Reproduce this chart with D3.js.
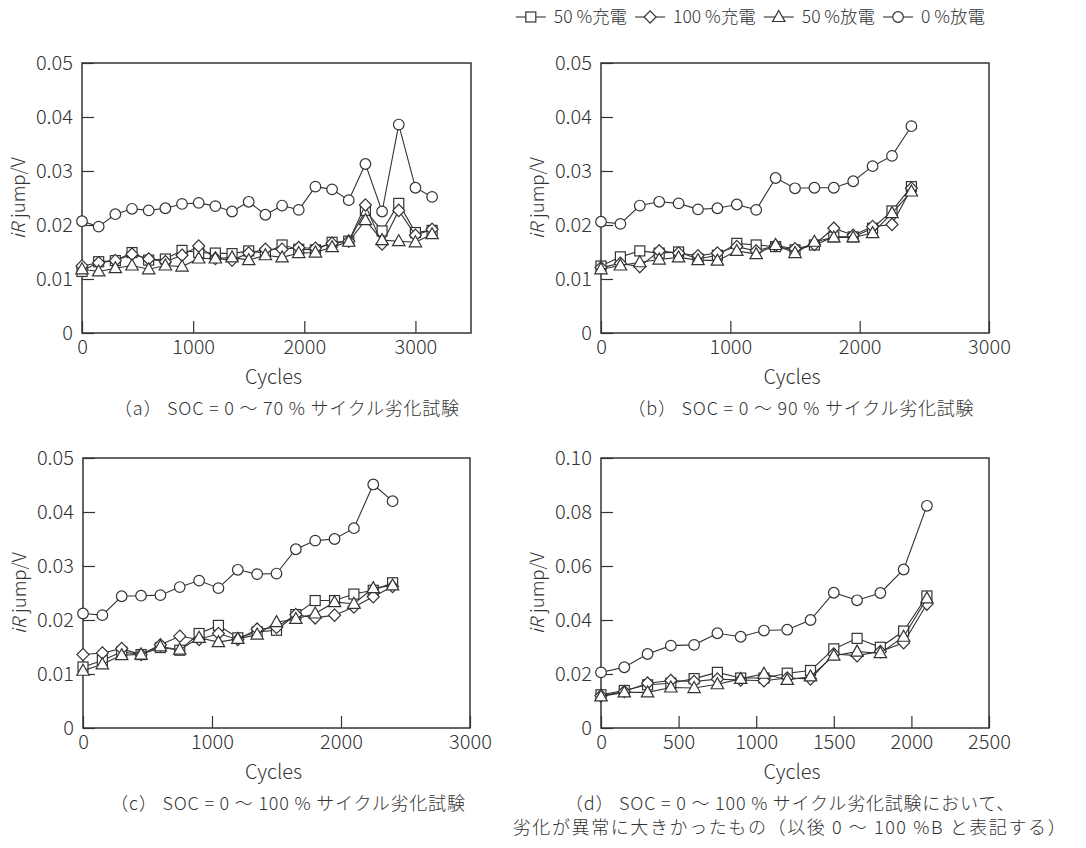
<!DOCTYPE html>
<html>
<head>
<meta charset="utf-8">
<script src="https://cdn.jsdelivr.net/npm/d3@7"></script>
<style>
  body { margin: 0; background: #fff; }
  svg text { font-family: "Noto Sans CJK JP", "Noto Sans", sans-serif; fill: #333; font-weight: 300; }
</style>
</head>
<body>
<svg id="chart" width="1086" height="848"></svg>
<script>
// series names, in legend order
var seriesNames = ["50 %充電", "100 %充電", "50 %放電", "0 %放電"];
var seriesShapes = ["square", "diamond", "triangle", "circle"];

// (a) SOC = 0-70 %
var cyclesA = [0,150,300,450,600,750,900,1050,1200,1350,1500,1650,1800,1950,2100,2250,2400,2550,2700,2850,3000,3150];
var aChg50  = [0.0114,0.0132,0.0134,0.0149,0.0135,0.0137,0.0153,0.0149,0.0148,0.0147,0.0152,0.0148,0.0163,0.0155,0.0154,0.0168,0.0170,0.0227,0.0189,0.0240,0.0186,0.0190];
var aChg100 = [0.0124,0.0130,0.0134,0.0146,0.0137,0.0132,0.0144,0.0161,0.0138,0.0135,0.0148,0.0155,0.0155,0.0158,0.0157,0.0166,0.0170,0.0237,0.0165,0.0227,0.0181,0.0192];
var aDis50  = [0.0118,0.0114,0.0120,0.0125,0.0118,0.0125,0.0123,0.0138,0.0138,0.0140,0.0135,0.0144,0.0140,0.0148,0.0149,0.0159,0.0169,0.0209,0.0172,0.0170,0.0168,0.0183];
var aDis0   = [0.0207,0.0197,0.0220,0.0230,0.0227,0.0231,0.0239,0.0241,0.0235,0.0225,0.0243,0.0219,0.0236,0.0228,0.0271,0.0266,0.0246,0.0313,0.0225,0.0386,0.0269,0.0252];

// (b) SOC = 0-90 %
var cyclesB = [0,150,300,450,600,750,900,1050,1200,1350,1500,1650,1800,1950,2100,2250,2400];
var bChg50  = [0.0124,0.0141,0.0152,0.0148,0.0150,0.0137,0.0144,0.0166,0.0163,0.0160,0.0154,0.0163,0.0178,0.0178,0.0194,0.0226,0.0271];
var bChg100 = [0.0121,0.0129,0.0123,0.0152,0.0148,0.0143,0.0148,0.0160,0.0152,0.0162,0.0156,0.0164,0.0194,0.0181,0.0197,0.0201,0.0268];
var bDis50  = [0.0118,0.0125,0.0131,0.0136,0.0140,0.0135,0.0134,0.0152,0.0146,0.0163,0.0148,0.0169,0.0177,0.0177,0.0185,0.0222,0.0262];
var bDis0   = [0.0206,0.0202,0.0236,0.0243,0.0240,0.0229,0.0231,0.0238,0.0228,0.0287,0.0268,0.0269,0.0269,0.0281,0.0309,0.0328,0.0383];

// (c) SOC = 0-100 %
var cyclesC = [0,150,300,450,600,750,900,1050,1200,1350,1500,1650,1800,1950,2100,2250,2400];
var cChg50  = [0.0113,0.0125,0.0141,0.0136,0.0149,0.0144,0.0175,0.0190,0.0167,0.0178,0.0181,0.0210,0.0236,0.0236,0.0248,0.0255,0.0269];
var cChg100 = [0.0136,0.0139,0.0147,0.0136,0.0154,0.0170,0.0164,0.0175,0.0164,0.0183,0.0186,0.0210,0.0204,0.0209,0.0224,0.0243,0.0262];
var cDis50  = [0.0106,0.0118,0.0135,0.0136,0.0151,0.0145,0.0167,0.0159,0.0165,0.0173,0.0196,0.0202,0.0212,0.0233,0.0230,0.0259,0.0264];
var cDis0   = [0.0212,0.0209,0.0244,0.0245,0.0246,0.0261,0.0273,0.0259,0.0293,0.0285,0.0286,0.0331,0.0347,0.0350,0.0370,0.0451,0.0420];

// (d) SOC = 0-100 %B
var cyclesD = [0,150,300,450,600,750,900,1050,1200,1350,1500,1650,1800,1950,2100];
var dChg50  = [0.0123,0.0139,0.0160,0.0166,0.0183,0.0206,0.0185,0.0185,0.0203,0.0213,0.0293,0.0332,0.0299,0.0359,0.0489];
var dChg100 = [0.0119,0.0135,0.0166,0.0176,0.0172,0.0181,0.0178,0.0175,0.0185,0.0182,0.0274,0.0268,0.0283,0.0316,0.0459];
var dDis50  = [0.0117,0.0132,0.0132,0.0150,0.0148,0.0162,0.0182,0.0201,0.0178,0.0191,0.0268,0.0283,0.0277,0.0338,0.0480];
var dDis0   = [0.0206,0.0225,0.0274,0.0305,0.0308,0.0351,0.0338,0.0361,0.0364,0.0400,0.0501,0.0473,0.0500,0.0587,0.0823];

// axis ticks
var xTicksA = [0,1000,2000,3000];
var xTicksB = [0,1000,2000,3000];
var xTicksD = [0,500,1000,1500,2000,2500];
var yTicks05 = [0,0.01,0.02,0.03,0.04,0.05];
var yTicks10 = [0,0.02,0.04,0.06,0.08,0.10];

var captionA = ["（a） SOC = 0 ～ 70 % サイクル劣化試験"];
var captionB = ["（b） SOC = 0 ～ 90 % サイクル劣化試験"];
var captionC = ["（c） SOC = 0 ～ 100 % サイクル劣化試験"];
var captionD = ["（d） SOC = 0 ～ 100 % サイクル劣化試験において、", "劣化が異常に大きかったもの（以後 0 ～ 100 %B と表記する）"];

var ink = "#333";
var svg = d3.select("#chart");

var panels = [
	{left:82, right:471, top:63, bottom:333, xMax:3500, xTicks:xTicksA, yMax:0.05, yTicks:yTicks05,
	 cycles:cyclesA, series:[aChg50,aChg100,aDis50,aDis0], caption:captionA, capX:287},
	{left:601, right:989, top:63, bottom:333, xMax:3000, xTicks:xTicksB, yMax:0.05, yTicks:yTicks05,
	 cycles:cyclesB, series:[bChg50,bChg100,bDis50,bDis0], caption:captionB, capX:801},
	{left:83, right:470, top:458, bottom:728, xMax:3000, xTicks:xTicksB, yMax:0.05, yTicks:yTicks05,
	 cycles:cyclesC, series:[cChg50,cChg100,cDis50,cDis0], caption:captionC, capX:288},
	{left:601, right:989, top:458, bottom:728, xMax:2500, xTicks:xTicksD, yMax:0.10, yTicks:yTicks10,
	 cycles:cyclesD, series:[dChg50,dChg100,dDis50,dDis0], caption:captionD, capX:790}
];

function marker(sel, shape) {
	if (shape == "circle") {
		sel.append("circle").attr("r", 5.3);
	} else if (shape == "square") {
		sel.append("rect").attr("x", -5).attr("y", -5).attr("width", 10).attr("height", 10);
	} else if (shape == "diamond") {
		sel.append("path").attr("d", "M0,-6.2L6,0L0,6.2L-6,0Z");
	} else {
		sel.append("path").attr("d", "M0,-6.5L6.2,4.5L-6.2,4.5Z");
	}
}

panels.forEach(function(p) {
	var x = d3.scaleLinear().domain([0, p.xMax]).range([p.left, p.right]);
	var y = d3.scaleLinear().domain([0, p.yMax]).range([p.bottom, p.top]);
	var g = svg.append("g");

	// inner ticks
	g.append("g")
		.attr("transform", "translate(0," + p.bottom + ")")
		.call(d3.axisBottom(x).tickValues(p.xTicks).tickSizeInner(-12).tickSizeOuter(0).tickFormat(d3.format("d")))
		.call(function(a) {
			a.select(".domain").remove();
			a.selectAll("line").attr("stroke", ink).attr("stroke-width", 1.2);
			a.selectAll("text").attr("font-size", 20).attr("fill", ink).attr("dy", "0.75em").attr("y", 6);
		});

	g.append("g")
		.attr("transform", "translate(" + p.left + ",0)")
		.call(d3.axisLeft(y).tickValues(p.yTicks).tickSizeInner(-12).tickSizeOuter(0)
			.tickFormat(function(d) { return d == 0 ? "0" : d3.format("0.2f")(d); }))
		.call(function(a) {
			a.select(".domain").remove();
			a.selectAll("line").attr("stroke", ink).attr("stroke-width", 1.2);
			a.selectAll("text").attr("font-size", 20).attr("fill", ink).attr("x", -9);
		});

	g.append("rect")
		.attr("x", p.left).attr("y", p.top)
		.attr("width", p.right - p.left).attr("height", p.bottom - p.top)
		.attr("fill", "none").attr("stroke", ink).attr("stroke-width", 1.5);

	g.selectAll(".tick text").style("font-family", null);

	g.append("text")
		.attr("transform", "translate(" + (p.left - 57) + "," + ((p.top + p.bottom) / 2) + ") rotate(-90)")
		.attr("text-anchor", "middle")
		.attr("font-size", 18.5)
		.call(function(t) {
			t.append("tspan").attr("font-style", "italic").text("iR");
			t.append("tspan").attr("dx", 5).text("jump/V");
		});

	g.append("text")
		.attr("x", (p.left + p.right) / 2 - 3)
		.attr("y", p.bottom + 51)
		.attr("text-anchor", "middle")
		.attr("font-size", 20)
		.text("Cycles");

	g.selectAll(".caption")
		.data(p.caption)
	.enter().append("text")
		.attr("class", "caption")
		.attr("x", p.capX)
		.attr("y", function(d, i) { return p.bottom + 82 + i * 23.5; })
		.attr("text-anchor", "middle")
		.attr("font-size", 18)
		.attr("letter-spacing", function(d, i) { return i == 0 ? 0.8 : 1.6; })
		.text(function(d) { return d; });

	var line = d3.line()
		.x(function(d, i) { return x(p.cycles[i]); })
		.y(function(d) { return y(d); });

	p.series.forEach(function(vals, k) {
		g.append("path")
			.attr("d", line(vals))
			.attr("fill", "none")
			.attr("stroke", ink)
			.attr("stroke-width", 1.1);

		g.selectAll(".m" + k)
			.data(vals)
		.enter().append("g")
			.attr("class", "m" + k)
			.attr("transform", function(d, i) { return "translate(" + x(p.cycles[i]) + "," + y(d) + ")"; })
			.attr("fill", "#fff")
			.attr("stroke", ink)
			.attr("stroke-width", 1.2)
			.each(function() { marker(d3.select(this), seriesShapes[k]); });
	});
});

// legend, right aligned at top
var legend = svg.append("g");
var lx = 0;
seriesNames.forEach(function(name, k) {
	var item = legend.append("g").attr("transform", "translate(" + lx + ",0)");
	item.append("line").attr("x1", 0).attr("x2", 30).attr("y1", 0).attr("y2", 0)
		.attr("stroke", ink).attr("stroke-width", 1.1);
	var m = item.append("g").attr("transform", "translate(15,0)")
		.attr("fill", "#fff").attr("stroke", ink).attr("stroke-width", 1.2);
	marker(m, seriesShapes[k]);
	var t = item.append("text").attr("x", 38).attr("y", 6).attr("font-size", 17.5).text(name);
	lx += 38 + t.node().getComputedTextLength() + 8;
});
legend.attr("transform", "translate(" + (985 - (lx - 8)) + ",17)");
</script>
</body>
</html>
